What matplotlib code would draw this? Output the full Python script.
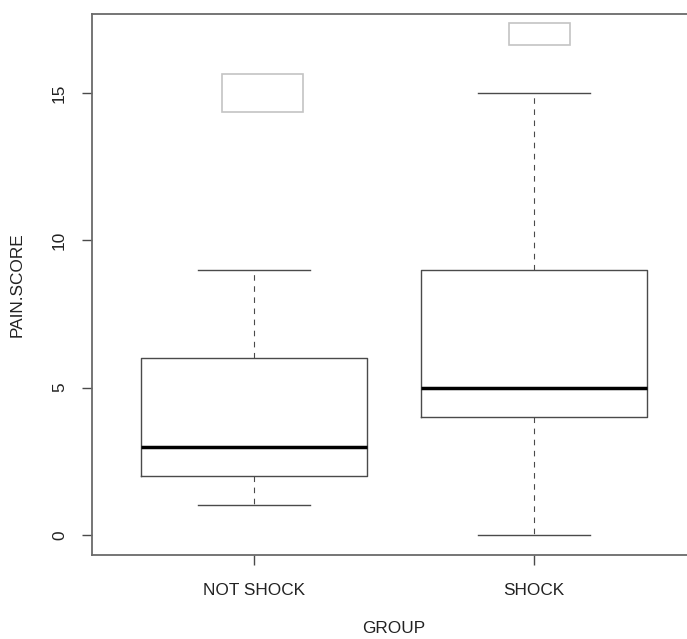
import matplotlib
matplotlib.use("Agg")
import matplotlib.pyplot as plt
from matplotlib.patches import Rectangle

plt.rcParams['font.family'] = ['Liberation Sans', 'DejaVu Sans']

groups = ["NOT SHOCK", "SHOCK"]
whisker_low = [1, 0]
q1 = [2, 4]
medians = [3, 5]
q3 = [6, 9]
whisker_high = [9, 15]
outliers = [[15], [17]]

line_col = "#4a4a4a"
text_col = "#222222"

fig = plt.figure(figsize=(6.87, 6.39), dpi=100)
ax = fig.add_axes([92 / 687, 84 / 639, 604 / 687, 541 / 639])

stats = []
for i, g in enumerate(groups):
    stats.append(dict(label=g, whislo=whisker_low[i], q1=q1[i], med=medians[i],
                      q3=q3[i], whishi=whisker_high[i], fliers=[]))

positions = [1, 2]
ax.bxp(stats, positions=positions, widths=0.81, showfliers=False,
       boxprops=dict(color=line_col, linewidth=1.0),
       whiskerprops=dict(color=line_col, linewidth=0.8, linestyle=(0, (5, 5))),
       capprops=dict(color=line_col, linewidth=1.0),
       medianprops=dict(color="black", linewidth=2.5, solid_capstyle="butt"),
       capwidths=0.4)

# outlying observations drawn as open rectangles
rect_sizes = [(0.29, 1.29), (0.22, 0.72)]
rect_offsets = [0.03, 0.02]
for i, vals in enumerate(outliers):
    w, h = rect_sizes[i]
    for v in vals:
        ax.add_patch(Rectangle((positions[i] + rect_offsets[i] - w / 2, v - h / 2), w, h,
                               fill=False, edgecolor="#c4c4c4", linewidth=1.2))

ax.set_xlim(0.42, 2.58)
ax.set_ylim(-0.68, 17.68)
ax.set_yticks([0, 5, 10, 15])
ax.set_yticklabels(["0", "5", "10", "15"], rotation=90, va="center")
ax.set_xticks(positions)
ax.set_xticklabels(groups)

for side in ["left", "bottom", "top", "right"]:
    ax.spines[side].set_color("#6a6a6a")
    ax.spines[side].set_linewidth(1.3)

ax.tick_params(axis="both", colors=line_col, labelcolor=text_col, labelsize=12.4,
               length=7, width=1.0)
ax.tick_params(axis="y", pad=11)
ax.tick_params(axis="x", pad=13)

ax.set_xlabel("GROUP", fontsize=12.4, color=text_col, labelpad=17)
ax.set_ylabel("PAIN.SCORE", fontsize=12.4, color=text_col, labelpad=20)

fig.savefig("out.png", dpi=100)
